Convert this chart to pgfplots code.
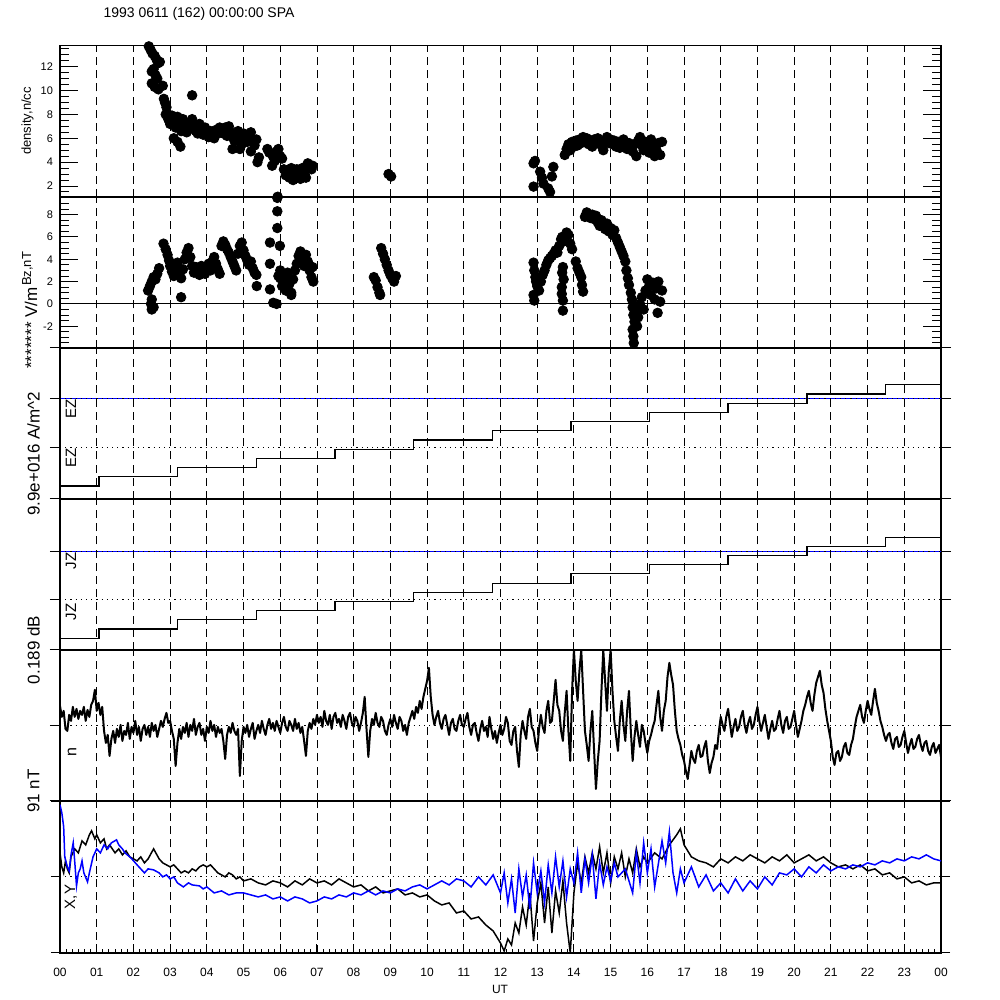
\documentclass[border=0pt]{standalone}
\usepackage{fontspec}
\setmainfont{Liberation Sans}
\usepackage{pgfplots}
\pgfplotsset{compat=1.18}
\definecolor{idlblue}{rgb}{0,0,1}
\pgfplotsset{
  panel/.style={
    anchor=south west, at={(30pt,#1)},
    width=440.5pt, height=75.6pt, scale only axis,
    xmin=0, xmax=24,
    tick style={line width=0.5pt, black},
    xtick={1,2,...,23}, xticklabels={},
    xmajorgrids,
    major grid style={black, line width=0.45pt, dash pattern=on 4pt off 2.6pt},
    xtick style={draw=none},
    axis line style={line width=0.7pt},
    /pgf/number format/assume math mode=true,
    yticklabel style={font=\fontsize{5.5}{6}\selectfont},
  },
  outpanel/.style={
    panel=#1, ymin=0, ymax=151,
    yticklabels={},
    ytick align=outside, major tick length=5pt,
  },
  dotline/.style={black, line width=0.5pt, dash pattern=on 0.6pt off 2pt},
}
\begin{document}
\begin{tikzpicture}
\useasboundingbox (0,0) rectangle (500pt,500pt);

% ---------- Panel 1: density ----------
\begin{axis}[panel=401.5pt, ymin=1.08, ymax=13.75,
  ytick={0,2,...,14}, minor y tick num=3,
  major tick length=9pt, minor tick length=4.5pt]
\addplot[only marks, mark=*, mark size=2.4pt, black] table {
2.42 13.7
2.47 13.4
2.52 13.1
2.58 12.9
2.63 12.6
2.68 12.3
2.72 12.4
2.55 11.8
2.50 11.6
2.60 11.3
2.65 11.0
2.50 10.6
2.58 10.3
2.68 10.1
2.80 10.4
2.83 9.3
2.86 9.0
2.90 8.6
2.88 8.0
2.95 7.6
3.00 7.2
3.05 7.9
3.10 7.5
3.15 6.9
3.20 7.8
3.25 7.3
3.30 6.6
3.35 7.6
3.40 7.1
3.45 6.5
3.50 7.2
3.55 6.8
3.60 7.6
3.65 7.0
3.70 6.6
3.75 6.4
3.80 7.2
3.85 6.8
3.90 6.3
3.95 6.9
4.00 6.5
4.05 6.1
4.10 6.6
4.15 6.3
4.20 6.0
4.25 6.7
4.30 6.4
4.35 6.9
3.20 5.7
3.28 5.3
3.10 6.0
3.60 9.6
4.45 6.4
4.50 6.9
4.55 6.2
4.60 7.0
4.65 6.5
4.70 6.1
4.75 5.8
4.80 6.3
4.85 6.6
4.90 6.0
4.95 5.5
5.00 6.4
5.05 6.1
5.10 5.7
5.15 6.2
5.20 6.5
5.25 5.9
5.30 5.4
5.35 5.9
4.70 5.1
4.90 5.1
5.20 4.9
5.42 4.4
5.38 4.0
5.65 5.1
5.70 4.8
5.80 4.5
5.90 4.9
5.95 5.1
6.00 4.5
6.05 4.3
5.78 3.7
5.85 4.1
6.10 3.4
6.15 2.9
6.20 3.2
6.25 2.7
6.30 3.5
6.35 3.1
6.40 2.8
6.45 3.4
6.50 3.2
6.55 2.6
6.60 3.5
6.65 3.0
6.70 3.6
6.75 3.9
6.80 3.6
6.85 3.4
6.88 3.7
6.35 2.5
6.70 2.7
5.93 1.1
8.95 3.0
9.02 2.8
12.90 3.9
12.94 4.1
13.08 3.2
13.44 3.6
13.40 2.8
12.90 1.95
13.17 2.2
13.35 1.5
13.30 1.8
13.13 2.7
13.75 4.6
13.80 5.1
13.85 5.5
13.90 5.0
13.95 5.7
14.00 5.3
14.05 5.8
14.10 5.4
14.15 5.9
14.20 5.6
14.25 6.1
14.30 5.7
14.35 6.0
14.40 5.5
14.45 5.8
14.50 5.3
14.55 5.9
14.60 5.6
14.65 6.0
14.70 5.7
14.75 5.4
14.80 5.0
14.85 5.8
14.90 6.1
14.95 5.6
15.00 5.9
15.05 5.5
15.10 5.8
15.15 5.3
15.20 5.7
15.25 5.2
15.30 5.6
15.35 5.9
15.40 5.4
15.45 5.1
15.50 5.6
15.55 5.3
15.60 4.9
15.65 5.5
15.70 4.5
15.75 5.8
15.80 6.1
15.85 5.4
15.90 5.0
15.95 5.7
16.00 5.2
16.05 4.8
16.10 5.9
16.15 5.4
16.20 4.5
16.25 5.0
16.30 5.6
16.35 4.6
16.40 5.7
};
\end{axis}

% ---------- Panel 2: Bz ----------
\begin{axis}[panel=326pt, ymin=-3.95, ymax=9.6,
  ytick={-4,-2,...,10}, minor y tick num=3,
  major tick length=9pt, minor tick length=4.5pt]
\addplot[black, line width=0.5pt] coordinates {(0,0) (24,0)};
\addplot[only marks, mark=*, mark size=2.4pt, black] table {
2.40 1.2
2.45 1.6
2.50 2.0
2.55 2.4
2.60 2.2
2.65 2.7
2.70 3.2
2.50 0.4
2.48 0.0
2.50 -0.5
2.55 -0.3
2.82 5.4
2.88 4.9
2.93 4.4
2.97 3.9
3.00 3.4
3.05 2.9
3.10 2.5
3.15 3.2
3.20 3.7
3.25 2.8
3.30 2.3
3.35 3.1
3.40 4.0
3.45 4.6
3.50 5.0
3.55 4.2
3.60 3.4
3.65 2.8
3.70 3.3
3.75 3.0
3.80 2.6
3.85 3.4
3.90 3.0
3.95 2.7
4.00 3.3
4.05 3.6
4.10 3.0
4.15 3.8
4.20 4.2
4.25 3.6
4.30 3.1
4.35 2.7
3.30 0.6
4.40 5.2
4.45 5.6
4.50 5.3
4.55 4.9
4.60 4.6
4.65 4.2
4.70 3.8
4.75 3.4
4.80 3.0
4.85 4.5
4.90 5.2
4.95 5.5
5.00 4.8
5.05 4.3
5.10 3.9
5.15 3.5
5.20 3.8
5.25 3.2
5.30 2.8
5.35 2.6
5.36 1.6
5.72 5.5
5.99 5.2
5.72 3.6
5.72 1.3
5.81 0.1
5.90 0.0
5.92 9.5
5.92 8.3
5.92 6.8
6.00 2.3
6.05 1.6
6.10 2.0
6.15 1.2
6.20 2.5
6.25 1.8
6.30 1.0
6.35 2.2
6.40 3.0
6.45 3.6
6.50 4.3
6.55 4.7
6.60 4.0
6.65 3.4
6.70 4.4
6.75 3.8
6.80 3.0
6.85 2.4
6.88 3.3
6.90 2.0
6.30 0.8
6.20 2.8
6.00 3.0
5.95 2.5
8.55 2.4
8.60 2.1
8.65 1.5
8.70 1.0
8.72 0.8
8.75 5.0
8.80 4.5
8.85 4.0
8.90 3.5
8.95 3.0
9.00 2.6
9.05 2.3
9.10 2.0
9.15 2.5
12.90 3.7
12.92 3.0
12.95 2.4
12.97 2.0
12.90 0.8
12.92 0.3
13.00 1.6
13.05 1.2
13.10 2.0
13.15 2.6
13.20 3.0
13.25 3.5
13.30 3.9
13.35 4.1
13.40 4.3
13.45 4.5
13.50 4.8
13.55 4.6
13.60 5.2
13.65 5.8
13.68 6.0
13.72 5.6
13.80 6.4
13.85 6.2
13.90 5.4
13.95 4.9
13.70 3.3
13.68 2.8
13.72 2.2
13.67 1.5
13.67 0.9
13.70 0.3
13.70 -0.6
14.05 3.8
14.10 3.2
14.15 2.8
14.20 2.4
14.22 1.7
14.25 1.1
14.30 7.8
14.35 8.2
14.40 8.0
14.45 7.7
14.50 8.0
14.55 7.6
14.60 7.9
14.65 7.3
14.70 7.0
14.75 7.5
14.80 7.1
14.85 6.7
14.90 7.2
14.95 6.5
15.00 6.8
15.05 6.2
15.10 6.6
15.15 5.9
15.20 5.5
15.25 5.1
15.30 4.7
15.35 4.3
15.40 3.8
15.43 3.0
15.47 2.3
15.50 1.7
15.55 1.0
15.58 0.4
15.60 -0.3
15.62 -1.0
15.65 -1.6
15.60 -2.3
15.62 -2.9
15.63 -3.5
15.70 -0.5
15.75 -1.2
15.80 0.0
15.85 0.6
15.90 -0.5
15.95 1.2
16.00 2.2
16.05 1.6
16.10 0.8
16.15 1.9
16.20 0.4
16.25 1.4
16.28 -0.8
16.30 2.0
16.35 0.2
16.40 1.2
15.72 -2.0
};
\end{axis}

% ---------- Panel 3: EZ ----------
\begin{axis}[outpanel=250.5pt, ytick={0,51,100,151}]
\addplot[idlblue, line width=0.5pt] coordinates {(0,100) (24,100)};
\addplot[dotline] coordinates {(0,100) (24,100)};
\addplot[dotline] coordinates {(0,51) (24,51)};
\addplot[const plot, black, line width=0.6pt] coordinates {
(0,13) (1.06,22.2) (3.20,31.4) (5.35,40.5) (7.49,49.7) (9.63,58.9)
(11.78,68.1) (13.92,77.3) (16.06,86.5) (18.20,95.6) (20.35,104.8) (22.49,114) (24,114)};
\end{axis}

% ---------- Panel 4: JZ ----------
\begin{axis}[outpanel=175pt, ytick={0,50,98.5,151}]
\addplot[idlblue, line width=0.5pt] coordinates {(0,98.5) (24,98.5)};
\addplot[dotline] coordinates {(0,98.5) (24,98.5)};
\addplot[dotline] coordinates {(0,50) (24,50)};
\addplot[const plot, black, line width=0.6pt] coordinates {
(0,11.7) (1.06,20.9) (3.20,30.1) (5.35,39.2) (7.49,48.4) (9.63,57.6)
(11.78,66.8) (13.92,76.0) (16.06,85.2) (18.20,94.3) (20.35,103.5) (22.49,112.7) (24,112.7)};
\end{axis}

% ---------- Panel 5: dB ----------
\begin{axis}[outpanel=99.5pt, ytick={0,75,151}]
\addplot[dotline] coordinates {(0,75) (24,75)};
\addplot[black, line width=1pt, line join=round] table {
0.00 95
0.05 84
0.10 90
0.15 72
0.20 70
0.25 86
0.30 80
0.35 94
0.40 84
0.45 92
0.50 82
0.55 90
0.60 86
0.65 94
0.70 80
0.75 91
0.80 84
0.85 96
0.90 100
0.95 111
1.00 90
1.05 98
1.10 86
1.15 94
1.20 70
1.25 58
1.30 66
1.35 45
1.40 62
1.45 70
1.50 58
1.55 72
1.60 64
1.65 76
1.70 60
1.75 70
1.80 66
1.85 78
1.90 62
1.95 74
2.00 68
2.05 80
2.10 66
2.15 74
2.20 60
2.25 72
2.30 76
2.35 66
2.40 74
2.45 64
2.50 78
2.55 70
2.60 76
2.65 64
2.70 72
2.75 80
2.80 74
2.85 82
2.90 88
2.95 78
3.00 80
3.05 70
3.10 62
3.15 35
3.20 58
3.25 72
3.30 62
3.35 74
3.40 68
3.45 78
3.50 64
3.55 76
3.60 70
3.65 82
3.70 66
3.75 74
3.80 78
3.85 66
3.90 72
3.95 60
4.00 74
4.05 68
4.10 80
4.15 70
4.20 76
4.25 64
4.30 74
4.35 68
4.40 72
4.45 60
4.50 42
4.55 66
4.60 74
4.65 68
4.70 78
4.75 70
4.80 66
4.85 72
4.90 25
4.95 60
5.00 74
5.05 68
5.10 76
5.15 64
5.20 72
5.25 78
5.30 62
5.35 70
5.40 76
5.45 68
5.50 80
5.55 72
5.60 66
5.65 76
5.70 82
5.75 72
5.80 78
5.85 70
5.90 80
5.95 74
6.00 68
6.05 78
6.10 84
6.15 74
6.20 70
6.25 80
6.30 76
6.35 70
6.40 82
6.45 72
6.50 78
6.55 68
6.60 74
6.65 60
6.70 45
6.75 70
6.80 78
6.85 72
6.90 82
6.95 76
7.00 86
7.05 78
7.10 84
7.15 74
7.20 90
7.25 80
7.30 76
7.35 86
7.40 72
7.45 84
7.50 88
7.55 78
7.60 82
7.65 74
7.70 86
7.75 80
7.80 72
7.85 84
7.90 88
7.95 78
8.00 74
8.05 84
8.10 80
8.15 70
8.20 78
8.25 88
8.30 104
8.35 72
8.40 44
8.45 70
8.50 82
8.55 76
8.60 88
8.65 78
8.70 74
8.75 84
8.80 80
8.85 70
8.90 66
8.95 76
9.00 82
9.05 74
9.10 86
9.15 78
9.20 72
9.25 84
9.30 80
9.35 70
9.40 76
9.45 66
9.50 78
9.55 84
9.60 90
9.65 82
9.70 94
9.75 88
9.80 100
9.85 92
9.90 104
9.95 112
10.00 120
10.05 133
10.10 104
10.15 86
10.20 76
10.25 84
10.30 90
10.35 78
10.40 72
10.45 82
10.50 86
10.55 76
10.60 66
10.65 78
10.70 82
10.75 72
10.80 70
10.85 80
10.90 86
10.95 76
11.00 74
11.05 82
11.10 88
11.15 74
11.20 66
11.25 76
11.30 78
11.35 68
11.40 60
11.45 72
11.50 80
11.55 70
11.60 74
11.65 64
11.70 84
11.75 72
11.80 62
11.85 70
11.90 58
11.95 68
12.00 76
12.05 66
12.10 72
12.15 84
12.20 78
12.25 60
12.30 56
12.35 70
12.40 74
12.45 50
12.50 34
12.55 66
12.60 80
12.65 70
12.70 62
12.75 84
12.80 92
12.85 74
12.90 70
12.95 58
13.00 50
13.05 72
13.10 86
13.15 74
13.20 68
13.25 90
13.30 100
13.35 78
13.40 80
13.45 100
13.50 121
13.55 96
13.60 90
13.65 70
13.70 60
13.75 88
13.80 110
13.85 70
13.90 40
13.95 110
14.00 151
14.05 120
14.10 100
14.15 130
14.20 151
14.25 110
14.30 70
14.35 56
14.40 40
14.45 70
14.50 90
14.55 50
14.60 12
14.65 40
14.70 60
14.75 110
14.80 151
14.85 120
14.90 90
14.95 130
15.00 151
15.05 110
15.10 80
15.15 64
15.20 50
15.25 80
15.30 100
15.35 76
15.40 60
15.45 90
15.50 110
15.55 70
15.60 40
15.65 64
15.70 80
15.75 66
15.80 54
15.85 76
15.90 70
15.95 58
16.00 48
16.05 60
16.10 66
16.15 74
16.20 80
16.25 96
16.30 110
16.35 84
16.40 70
16.45 90
16.50 100
16.55 124
16.60 138
16.65 126
16.70 116
16.75 90
16.80 70
16.85 62
16.90 56
16.95 46
17.00 40
17.05 30
17.10 22
17.15 36
17.20 50
17.25 42
17.30 38
17.35 50
17.40 56
17.45 44
17.50 45
17.55 54
17.60 60
17.65 40
17.70 28
17.75 38
17.80 44
17.85 56
17.90 52
17.95 70
18.00 84
18.05 76
18.10 70
18.15 84
18.20 92
18.25 78
18.30 64
18.35 74
18.40 82
18.45 70
18.50 74
18.55 84
18.60 90
18.65 76
18.70 68
18.75 78
18.80 84
18.85 72
18.90 76
18.95 86
19.00 94
19.05 80
19.10 70
19.15 78
19.20 86
19.25 74
19.30 62
19.35 72
19.40 80
19.45 70
19.50 72
19.55 82
19.60 90
19.65 76
19.70 68
19.75 80
19.80 84
19.85 72
19.90 74
19.95 82
20.00 90
20.05 76
20.10 64
20.15 72
20.20 80
20.25 90
20.30 96
20.35 104
20.40 110
20.45 98
20.50 90
20.55 106
20.60 118
20.65 124
20.70 130
20.75 116
20.80 108
20.85 92
20.90 80
20.95 70
21.00 60
21.05 44
21.10 36
21.15 48
21.20 50
21.25 40
21.30 44
21.35 54
21.40 58
21.45 48
21.50 46
21.55 56
21.60 62
21.65 74
21.70 84
21.75 90
21.80 96
21.85 84
21.90 78
21.95 90
22.00 100
22.05 92
22.10 86
22.15 100
22.20 112
22.25 98
22.30 90
22.35 80
22.40 74
22.45 66
22.50 60
22.55 66
22.60 68
22.65 58
22.70 52
22.75 62
22.80 64
22.85 54
22.90 56
22.95 64
23.00 70
23.05 58
23.10 48
23.15 56
23.20 62
23.25 52
23.30 54
23.35 62
23.40 66
23.45 56
23.50 50
23.55 58
23.60 60
23.65 50
23.70 46
23.75 54
23.80 58
23.85 48
23.90 52
23.95 56
24.00 44
};
\end{axis}

% ---------- Panel 6: X,Y ----------
\begin{axis}[outpanel=23.5pt, ytick={0,76,151},
  xtick={0,1,...,24},
  xticklabels={00,01,02,03,04,05,06,07,08,09,10,11,12,13,14,15,16,17,18,19,20,21,22,23,00},
  xtick style={draw=black}, xtick align=inside, xtick pos=left,
  minor x tick num=5, major tick length=4.5pt, minor tick length=2pt,
  xticklabel style={font=\fontsize{6}{7}\selectfont, yshift=-4pt}]
\addplot[dotline] coordinates {(0,76) (24,76)};
\addplot[black, line width=0.75pt] table {
0.0 100
0.05 86
0.1 80
0.15 92
0.2 84
0.25 80
0.3 96
0.4 104
0.5 100
0.6 112
0.7 108
0.8 118
0.86 122
0.95 114
1.0 118
1.1 110
1.2 114
1.27 104
1.35 108
1.5 100
1.6 104
1.7 98
1.8 102
1.9 96
2.0 94
2.1 92
2.2 96
2.3 90
2.4 94
2.55 104
2.7 94
2.8 90
2.9 88
3.0 86
3.1 88
3.2 84
3.3 80
3.4 82
3.5 80
3.6 84
3.7 82
3.8 86
3.9 88
4.0 86
4.1 88
4.2 84
4.3 80
4.4 78
4.5 76
4.6 80
4.7 78
4.8 74
4.9 76
5.0 72
5.2 74
5.4 70
5.6 68
5.8 72
6.0 70
6.2 66
6.4 72
6.6 68
6.8 74
7.0 70
7.2 72
7.4 68
7.6 74
7.8 70
8.0 66
8.2 68
8.4 62
8.6 66
8.8 60
9.0 62
9.2 64
9.4 58
9.6 60
9.8 56
10.0 58
10.2 52
10.4 48
10.6 50
10.8 40
11.0 42
11.2 34
11.4 36
11.6 28
11.8 22
12.0 10
12.1 2
12.2 14
12.3 8
12.4 30
12.5 20
12.6 46
12.7 28
12.8 60
12.9 12
13.0 50
13.1 70
13.2 30
13.3 66
13.4 20
13.5 62
13.6 40
13.7 72
13.8 30
13.9 0
14.0 60
14.1 90
14.2 70
14.3 96
14.4 80
14.5 100
14.6 84
14.7 106
14.8 80
14.9 100
15.0 70
15.1 96
15.2 84
15.3 100
15.4 76
15.5 94
15.6 80
15.7 104
15.8 86
15.9 96
16.0 90
16.2 100
16.4 94
16.6 108
16.8 118
16.9 124
17.0 108
17.2 96
17.4 92
17.6 90
17.8 86
18.0 94
18.2 90
18.4 96
18.6 92
18.8 98
19.0 94
19.2 90
19.4 96
19.6 92
19.8 98
20.0 90
20.2 94
20.4 98
20.6 92
20.8 96
21.0 90
21.2 86
21.4 88
21.6 84
21.8 88
22.0 82
22.2 84
22.4 78
22.6 80
22.8 74
23.0 76
23.2 70
23.4 72
23.6 68
23.8 70
24.0 70
};
\addplot[idlblue, line width=0.75pt] table {
0.0 148
0.05 140
0.1 126
0.13 96
0.2 86
0.25 82
0.3 98
0.36 110
0.4 92
0.45 67
0.5 80
0.55 84
0.6 92
0.65 80
0.75 71
0.8 80
0.9 96
1.0 104
1.1 100
1.2 108
1.3 104
1.4 110
1.54 113
1.6 108
1.7 104
1.77 100
1.9 96
1.98 93
2.1 88
2.2 84
2.3 80
2.4 84
2.55 83
2.7 80
2.8 76
2.9 78
3.0 74
3.1 76
3.2 70
3.36 66
3.5 70
3.6 68
3.8 67
3.9 64
4.0 66
4.2 60
4.4 62
4.6 58
4.8 60
5.0 60
5.2 58
5.4 56
5.6 58
5.8 54
6.0 56
6.2 52
6.4 56
6.6 54
6.8 50
7.0 52
7.2 56
7.4 54
7.6 58
7.8 56
8.0 60
8.2 58
8.4 62
8.6 58
8.8 62
9.0 60
9.2 64
9.4 62
9.6 66
9.8 68
10.0 64
10.2 68
10.4 72
10.6 68
10.8 74
11.0 72
11.2 66
11.4 76
11.6 68
11.8 78
12.0 60
12.1 80
12.2 50
12.3 74
12.4 40
12.5 84
12.6 56
12.7 78
12.8 44
12.9 90
13.0 60
13.1 82
13.2 50
13.3 88
13.4 60
13.5 96
13.6 66
13.7 92
13.8 56
13.9 84
14.0 70
14.1 100
14.2 60
14.3 94
14.4 70
14.5 98
14.6 54
14.7 90
14.8 68
14.9 86
15.0 72
15.1 90
15.2 76
15.4 84
15.6 60
15.7 100
15.8 70
15.9 110
16.0 80
16.1 104
16.2 66
16.4 112
16.5 90
16.6 121
16.7 80
16.8 60
16.9 84
17.0 70
17.2 86
17.4 66
17.6 78
17.8 62
18.0 70
18.2 60
18.4 74
18.6 62
18.8 72
19.0 64
19.2 76
19.4 68
19.6 80
19.8 78
20.0 84
20.2 76
20.4 86
20.6 80
20.8 88
21.0 82
21.2 86
21.4 84
21.6 88
21.8 86
22.0 90
22.2 88
22.4 92
22.6 90
22.8 94
23.0 92
23.2 96
23.4 94
23.6 98
23.8 94
24.0 92
};
\end{axis}

% ---------- Text ----------
\node[font=\fontsize{7}{8}\selectfont] at (99.5pt,493pt) {1993 0611 (162) 00:00:00 SPA};
\node[rotate=90, font=\fontsize{6.5}{7}\selectfont] at (13.75pt,439.5pt) {density,n/cc};
\node[rotate=90, font=\fontsize{6.5}{7}\selectfont] at (13.75pt,365.5pt) {Bz,nT};
\node[rotate=90, font=\fontsize{8.5}{9}\selectfont] at (15.5pt,336pt) {******* V/m};
\node[rotate=90, font=\fontsize{8.5}{9}\selectfont] at (16.75pt,273pt) {9.9e+016 A/m\^{}2};
\node[rotate=90, font=\fontsize{7.5}{8}\selectfont] at (35.5pt,295.5pt) {EZ};
\node[rotate=90, font=\fontsize{7.5}{8}\selectfont] at (35.5pt,271pt) {EZ};
\node[rotate=90, font=\fontsize{7.5}{8}\selectfont] at (35.5pt,219.5pt) {JZ};
\node[rotate=90, font=\fontsize{7.5}{8}\selectfont] at (35.5pt,194pt) {JZ};
\node[rotate=90, font=\fontsize{8.5}{9}\selectfont] at (16.75pt,175pt) {0.189 dB};
\node[rotate=90, font=\fontsize{8.5}{9}\selectfont] at (16.75pt,104.5pt) {91 nT};
\node[rotate=90, font=\fontsize{8}{9}\selectfont] at (36pt,124pt) {n};
\node[rotate=90, font=\fontsize{7.5}{8}\selectfont] at (35.5pt,51.5pt) {X,Y};
\node[font=\fontsize{6}{7}\selectfont] at (250pt,5.5pt) {UT};
\end{tikzpicture}
\end{document}
